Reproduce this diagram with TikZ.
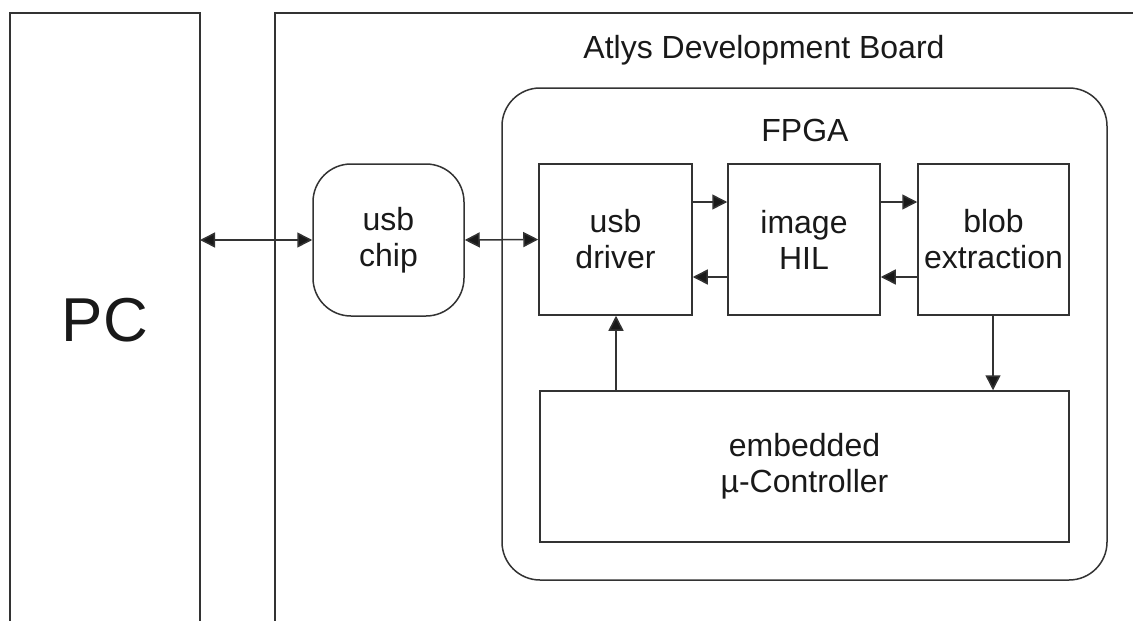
\documentclass[tikz,border=0pt]{standalone}
\usepackage{fontspec}
\setmainfont{Liberation Sans}
\usetikzlibrary{arrows.meta}
\begin{document}
\begin{tikzpicture}[x=1pt,y=-1pt,
  line/.style={line width=1.5pt, draw=black!80},
  blk/.style={line, rectangle, minimum width=152pt, minimum height=152pt, inner sep=0pt, align=center, text=black!90, font=\fontsize{32}{36}\selectfont},
  rblk/.style={blk, rounded corners=38pt},
  lbl/.style={inner sep=0pt, text=black!90, font=\fontsize{32}{36}\selectfont},
  arr/.style={line, -{Triangle[length=15pt,width=15pt,fill=black!90]}},
  barr/.style={line, {Triangle[length=15pt,width=15pt,fill=black!90]}-{Triangle[length=15pt,width=15pt,fill=black!90]}}]
\useasboundingbox (0,0) rectangle (1133,621);
% PC
\draw[line] (10,621) -- (10,13) -- (200,13) -- (200,621);
\node[lbl, font=\fontsize{62}{70}\selectfont] (pc) at (105,320) {PC};
\coordinate (pcR) at (200,240);
% Board
\draw[line] (275,621) -- (275,13) -- (1133,13);
\node[lbl] (board) at (764,50) {Atlys Development Board};
% FPGA
\node[line, rectangle, rounded corners=38pt, minimum width=605pt, minimum height=492pt, inner sep=0pt] (fpga) at (804.5,334) {};
\node[lbl] (fpgalbl) at (805,130) {FPGA};
% blocks
\node[rblk, minimum width=151pt] (chip) at (388.5,240) {usb\\chip};
\node[blk, minimum width=153pt, minimum height=151pt] (drv) at (615.5,239.5) {usb\\driver};
\node[blk, minimum width=152pt, minimum height=151pt] (hil) at (804,239.5) {image\\HIL};
\node[blk, minimum width=151pt, minimum height=151pt] (blob) at (993.5,239.5) {blob\\extraction};
\node[blk, minimum width=529pt, minimum height=151pt] (emb) at (804.5,466.5) {embedded\\µ-Controller};
% connectors
\draw[barr] (pcR) -- (chip.west);
\draw[barr] (chip.east) -- (drv.west);
\draw[arr] (drv.east |- 0,202) -- (hil.west |- 0,202);
\draw[arr] (hil.east |- 0,202) -- (blob.west |- 0,202);
\draw[arr] (hil.west |- 0,277) -- (drv.east |- 0,277);
\draw[arr] (blob.west |- 0,277) -- (hil.east |- 0,277);
\draw[arr] (emb.north -| 616,0) -- (drv.south -| 616,0);
\draw[arr] (blob.south -| 993,0) -- (emb.north -| 993,0);
\end{tikzpicture}
\end{document}
